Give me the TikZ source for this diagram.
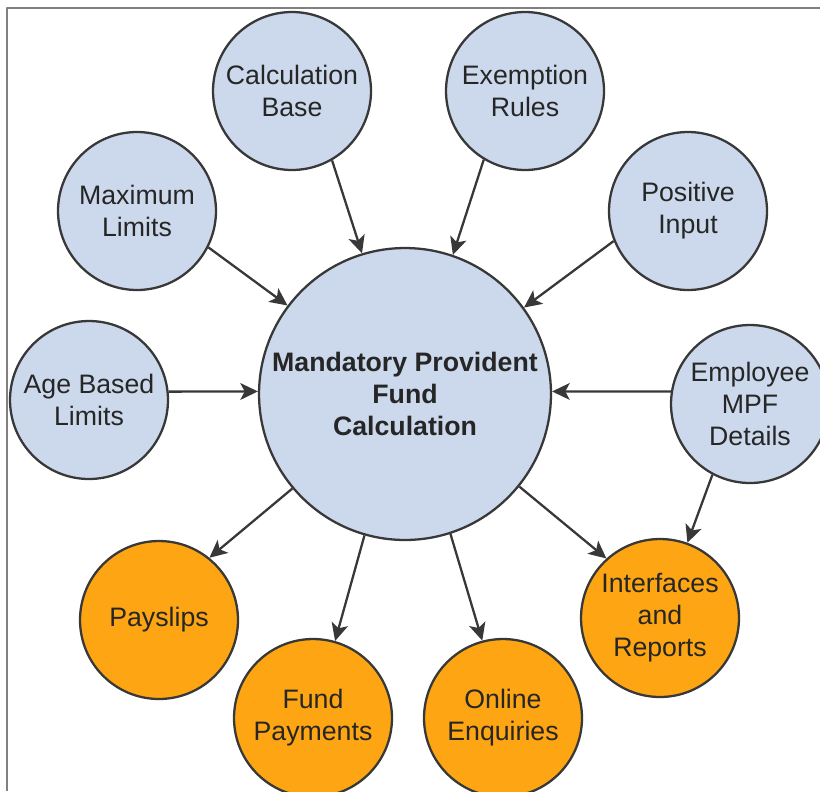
\documentclass[tikz,border=0pt]{standalone}
\usepackage{fontspec}
\setmainfont{Liberation Sans}
\usetikzlibrary{arrows.meta}
\definecolor{inblue}{HTML}{CCD9EC}
\definecolor{outorange}{HTML}{FDA512}
\definecolor{rim}{HTML}{383838}
\begin{document}
\begin{tikzpicture}[x=0.02cm,y=-0.02cm,line join=round,>={Stealth[length=10pt,width=9.5pt,inset=2.5pt]},
  feed/.style={circle,draw=rim,line width=1.3pt,fill=inblue,minimum size=3.16cm,inner sep=0pt,
    align=center,text=black!85,font=\fontsize{15.2}{18.2}\selectfont},
  result/.style={feed,fill=outorange},
  flow/.style={->,draw=rim,line width=1.3pt}]
\useasboundingbox (0,0) rectangle (820,791);
\clip (0,0) rectangle (820,791);
\draw[gray,line width=0.6pt](7,791)--(7,8)--(820,8);

% centre
\node[feed,minimum size=5.84cm,font=\fontsize{15.2}{18.2}\selectfont\bfseries] (mpf) at (405,394)
  {Mandatory Provident\\Fund\\Calculation};

% inputs
\node[feed] (base) at (292,91) {Calculation\\Base};
\node[feed] (exempt) at (525,91) {Exemption\\Rules};
\node[feed] (maxlim) at (137,211) {Maximum\\Limits};
\node[feed] (posin) at (688,211) {Positive\\Input};
\node[feed] (age) at (89,400) {Age Based\\Limits};
\node[feed] (emp) at (750,404) {Employee\\MPF\\Details};

% outputs
\node[result] (pay) at (159,620) {Payslips};
\node[result] (fund) at (313,718) {Fund\\Payments};
\node[result] (online) at (503,718) {Online\\Enquiries};
\node[result] (intf) at (660,618) {Interfaces\\and\\Reports};

\draw[flow](base.300)--(mpf.107);
\draw[flow](exempt.239)--(mpf.71);
\draw[flow](maxlim.333)--(mpf.143);
\draw[flow](posin.202)--(mpf.36);
\draw[flow](age.6)--(mpf.179);
\draw[flow](emp.171)--(mpf.1);
\draw[flow](emp.242)--(intf.70);
\draw[flow](mpf.220)--(pay.51);
\draw[flow](mpf.254)--(fund.74);
\draw[flow](mpf.288)--(online.105);
\draw[flow](mpf.321)--(intf.132);
\end{tikzpicture}
\end{document}
